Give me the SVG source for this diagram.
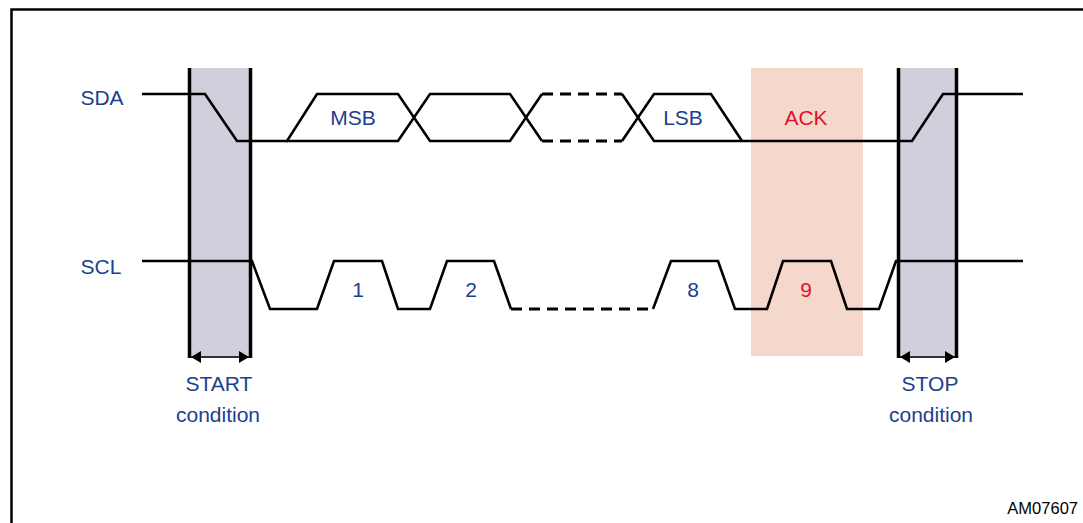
<svg xmlns="http://www.w3.org/2000/svg" width="1083" height="523" viewBox="0 0 1083 523">
<defs>
<style>
.sig{fill:none;stroke:#000;stroke-width:2.6;stroke-linejoin:miter}
.dash{fill:none;stroke:#000;stroke-width:3;stroke-dasharray:11 7}
.edge{stroke:#000;stroke-width:3.5}
.lbl{font-family:"Liberation Sans",Arial,sans-serif;font-size:21px;fill:#1c3f8c}
.red{font-family:"Liberation Sans",Arial,sans-serif;font-size:21px;fill:#e2122e}
</style>
<marker id="ah" viewBox="0 0 10 12" refX="10" refY="6" markerWidth="10" markerHeight="12" markerUnits="userSpaceOnUse" orient="auto-start-reverse">
<path d="M0,0 L10,6 L0,12 Z" fill="#000"/>
</marker>
</defs>
<rect width="1083" height="523" fill="#fff"/>
<path d="M11.5,523 V9.5 H1083" fill="none" stroke="#000" stroke-width="2.5"/>

<g id="ack-window">
<rect x="751" y="68" width="112" height="288" fill="#f5d8cc"/>
</g>
<g id="start-bar">
<rect x="189" y="68" width="62" height="290" fill="#d0d0dc"/>
</g>
<g id="stop-bar">
<rect x="897" y="68" width="61" height="290" fill="#d0d0dc"/>
</g>

<g id="connectors">
<!-- SDA -->
<path class="sig" d="M142,94 H205 L237,141 H287 L317,94 H398 L430,141 H510 L542,94"/>
<path class="sig" d="M287,141 H398 L430,94 H510 L542,141"/>
<path class="dash" d="M542,94 H622 M542,141 H622"/>
<path class="sig" d="M622,94 L654,141 H912 L943,94 H1023"/>
<path class="sig" d="M622,141 L654,94 H711 L742,141"/>
<!-- SCL -->
<path class="sig" d="M142,261 H252 L270,309 H317 L334,261 H382 L398,309 H430 L447,261 H494 L511,309"/>
<path class="dash" d="M511,309 H653"/>
<path class="sig" d="M653,309 L671,261 H718 L735,309 H767 L783,261 H831 L847,309 H879 L896,261 H1023"/>
<!-- bar edges -->
<path class="edge" d="M189.5,68 V358 M250.5,68 V358 M898.5,68 V358 M956.5,68 V358"/>
<!-- duration arrows -->
<path d="M191,357 H249" stroke="#000" stroke-width="1.6" marker-start="url(#ah)" marker-end="url(#ah)"/>
<path d="M900,357 H955" stroke="#000" stroke-width="1.6" marker-start="url(#ah)" marker-end="url(#ah)"/>
</g>

<g id="labels">
<text class="lbl" x="102" y="105" text-anchor="middle">SDA</text>
<text class="lbl" x="101" y="274" text-anchor="middle">SCL</text>
<text class="lbl" x="353" y="125" text-anchor="middle">MSB</text>
<text class="lbl" x="683" y="125" text-anchor="middle">LSB</text>
<text class="red" x="806" y="125" text-anchor="middle">ACK</text>
<text class="lbl" x="358" y="297" text-anchor="middle">1</text>
<text class="lbl" x="471" y="297" text-anchor="middle">2</text>
<text class="lbl" x="693" y="297" text-anchor="middle">8</text>
<text class="red" x="806" y="297" text-anchor="middle">9</text>
<text class="lbl" x="219" y="391" text-anchor="middle">START</text>
<text class="lbl" x="218" y="422" text-anchor="middle">condition</text>
<text class="lbl" x="930" y="391" text-anchor="middle">STOP</text>
<text class="lbl" x="931" y="422" text-anchor="middle">condition</text>
<text x="1078" y="514" text-anchor="end" font-family="Liberation Sans,Arial,sans-serif" font-size="16.5" fill="#000">AM07607</text>
</g>
</svg>
